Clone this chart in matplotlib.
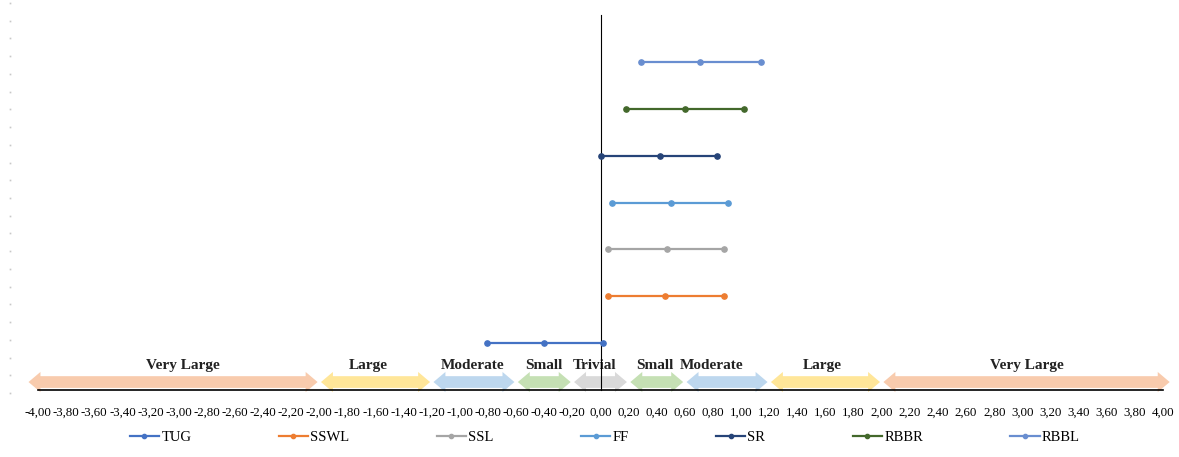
import numpy as np
from matplotlib import pyplot as plt
from matplotlib.patches import Polygon
from matplotlib.lines import Line2D

plt.rcParams['font.family'] = ['Liberation Serif', 'DejaVu Serif']

# effect sizes: lower bound, estimate, upper bound
series = ['TUG', 'SSWL', 'SSL', 'FF', 'SR', 'RBBR', 'RBBL']
lower = [-0.81, 0.05, 0.05, 0.08, 0.00, 0.18, 0.29]
estimate = [-0.40, 0.46, 0.47, 0.50, 0.42, 0.60, 0.71]
upper = [0.02, 0.88, 0.88, 0.91, 0.83, 1.02, 1.14]
colors = ['#4472C4', '#ED7D31', '#A5A5A5', '#5B9BD5', '#264478', '#43682B', '#698ED0']

# effect size bands along the x axis
band_edges = [-4.08, -2.0, -1.2, -0.6, -0.2, 0.2, 0.6, 1.2, 2.0, 4.06]
band_names = ['Very Large', 'Large', 'Moderate', 'Small', 'Trivial',
              'Small', 'Moderate', 'Large', 'Very Large']
band_label_x = [-2.97, -1.65, -0.91, -0.40, -0.04, 0.39, 0.79, 1.58, 3.03]
band_colors = ['#F8CBAD', '#FFE699', '#BDD7EE', '#C5E0B4', '#D9D9D9',
               '#C5E0B4', '#BDD7EE', '#FFE699', '#F8CBAD']

xticks = np.round(np.arange(-4.0, 4.01, 0.2), 2)


def block_arrow(ax, x0, x1, yc, color, gap=0.012):
    """ double headed block arrow between x0 and x1, centred on yc """
    hl, bh, hh = 0.085, 0.125, 0.215
    a, b = x0 + gap, x1 - gap
    pts = [(a, yc), (a + hl, yc + hh), (a + hl, yc + bh), (b - hl, yc + bh),
           (b - hl, yc + hh), (b, yc), (b - hl, yc - hh), (b - hl, yc - bh),
           (a + hl, yc - bh), (a + hl, yc - hh)]
    ax.add_patch(Polygon(pts, closed=True, facecolor=color, edgecolor='none',
                         clip_on=False, zorder=1))


fig = plt.figure(figsize=(11.79, 4.57), dpi=100)
ax = fig.add_axes([24 / 1179, 67 / 457, 1153 / 1179, 375 / 457])
ax.set_xlim(-4.1, 4.1)
ax.set_ylim(0, 8)

for i, name in enumerate(series):
    y = i + 1
    ax.plot([lower[i], estimate[i], upper[i]], [y, y, y], '-o', color=colors[i],
            lw=1.6, ms=3.8, label=name, zorder=3, clip_on=False)

for k, name in enumerate(band_names):
    block_arrow(ax, band_edges[k], band_edges[k + 1], 0.17, band_colors[k])
    ax.text(band_label_x[k], 0.53, name, ha='center', va='center', fontsize=11,
            fontweight='bold', color='#222222', zorder=2)

ax.spines['left'].set_position(('data', 0))
ax.spines['left'].set_zorder(2)
ax.spines['bottom'].set_bounds(-4, 4)
ax.spines['bottom'].set_linewidth(1.2)
ax.spines['right'].set_visible(False)
ax.spines['top'].set_visible(False)
ax.set_yticks([])
ax.set_xticks(xticks)
ax.set_xticklabels([('%.2f' % v).replace('.', ',').replace('-0,00', '0,00') for v in xticks])
ax.tick_params(axis='x', length=0, pad=12, labelsize=9.3)

# faint dotted marks along the left edge
dot_y = np.linspace(1 - 3 / 457, 1 - 393 / 457, 23)
fig.add_artist(Line2D(np.full(23, 10 / 1179), dot_y, transform=fig.transFigure,
                      ls='none', marker='s', ms=1.2, color='#c8c8c8', mec='none'))

fig.legend(loc='center', bbox_to_anchor=(0.513, 1 - 437 / 457), ncol=7, frameon=False,
           fontsize=10.5, handlelength=2.0, handletextpad=0.15, columnspacing=6.0,
           markerscale=0.8)

fig.savefig('out.png', dpi=100)
